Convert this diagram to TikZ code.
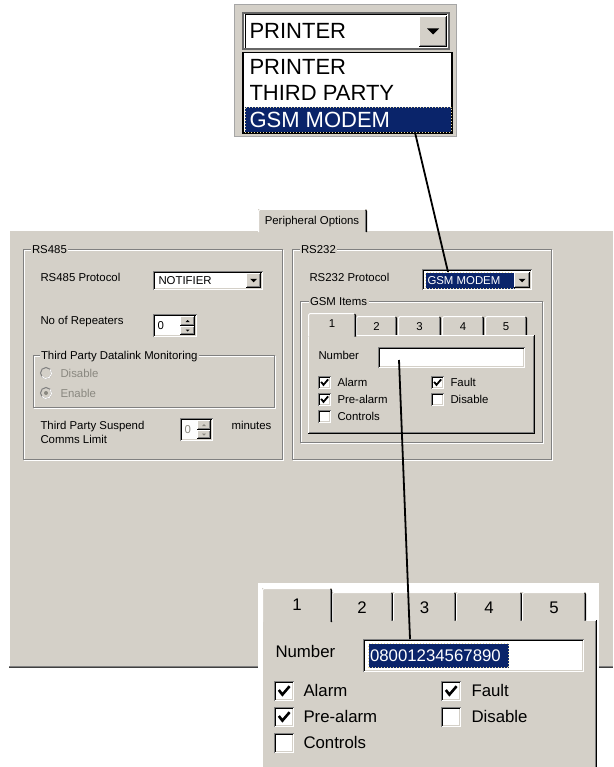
\documentclass[tikz,border=0pt]{standalone}
\usepackage{fontspec}
\setmainfont{Liberation Sans}
\definecolor{panel}{HTML}{D4D0C8}
\definecolor{dkg}{HTML}{808080}
\definecolor{navy}{HTML}{0A246A}
\definecolor{dotc}{HTML}{E6D9A0}
\definecolor{disg}{HTML}{8A8880}
\newcommand\myfs[1]{\fontsize{#1}{#1}\selectfont}
% sunken field: x1 y1 x2 y2 fill
\newcommand\mySunk[5]{%
 \fill[#5] (#1,#2) rectangle (#3,#4);
 \draw[dkg] (#1+0.5,#4) -- (#1+0.5,#2+0.5) -- (#3,#2+0.5);
 \draw[black] (#1+1.5,#4-1) -- (#1+1.5,#2+1.5) -- (#3-1,#2+1.5);
 \draw[white] (#1+0.5,#4-0.5) -- (#3-0.5,#4-0.5) -- (#3-0.5,#2+0.5);
 \draw[panel] (#1+1.5,#4-1.5) -- (#3-1.5,#4-1.5) -- (#3-1.5,#2+1.5);
}
% raised button / panel
\newcommand\myRaised[4]{%
 \fill[panel] (#1,#2) rectangle (#3,#4);
 \draw[white] (#1+0.5,#4-1) -- (#1+0.5,#2+0.5) -- (#3-1,#2+0.5);
 \draw[black] (#1,#4-0.5) -- (#3-0.5,#4-0.5) -- (#3-0.5,#2);
 \draw[dkg] (#1+1,#4-1.5) -- (#3-1.5,#4-1.5) -- (#3-1.5,#2+1);
}
% etched group frame
\newcommand\myEtch[4]{%
 \draw[white] (#1+1.5,#2+1.5) rectangle (#3+1.5,#4+1.5);
 \draw[dkg] (#1+0.5,#2+0.5) rectangle (#3+0.5,#4+0.5);
}
% down triangle: cx cy halfwidth colour
\newcommand\myTri[4]{\fill[#4] (#1-#3,#2-#3/2) -- (#1+#3,#2-#3/2) -- (#1,#2+#3/2) -- cycle;}
\newcommand\myUpTri[4]{\fill[#4] (#1-#3,#2+#3/2) -- (#1+#3,#2+#3/2) -- (#1,#2-#3/2) -- cycle;}
% tab: x1 y1 x2 y2
\newcommand\myTab[4]{%
 \fill[panel] (#1,#2) rectangle (#3,#4);
 \draw[white] (#1+0.5,#4) -- (#1+0.5,#2+2) -- (#1+2,#2+0.5) -- (#3-2,#2+0.5);
 \draw[black] (#3-1.5,#2+1) -- (#3-0.5,#2+2) -- (#3-0.5,#4);
 \draw[dkg] (#3-1.5,#2+2) -- (#3-1.5,#4);
}
% tick: x y size linewidth
\newcommand\myTick[4]{\draw[line width=#4] (#1+#3*0.24,#2+#3*0.45) -- (#1+#3*0.42,#2+#3*0.68) -- (#1+#3*0.78,#2+#3*0.26);}
\begin{document}
\begin{tikzpicture}[x=1pt,y=-1pt,line width=1pt,
  lbl/.style={anchor=west,inner sep=0pt,font=\myfs{11.4},text height=8.2pt,text depth=0pt},
  lblc/.style={lbl,anchor=center},
  glbl/.style={lbl,fill=panel,inner xsep=1.5pt,inner ysep=2pt},
  lbig/.style={anchor=west,inner sep=0pt,font=\myfs{22},text height=15.8pt,text depth=0pt},
  lmid/.style={anchor=west,inner sep=0pt,font=\myfs{16.8},text height=12pt,text depth=0pt},
  lmidc/.style={lmid,anchor=center},
  hilite/.style={fill=navy,draw=dotc,dotted,line width=1pt,anchor=north west,inner sep=0pt},
  conn/.style={line width=1.8pt,black}]
\useasboundingbox (0,0) rectangle (613,767);
\fill[white] (0,0) rectangle (613,767);

% ---------------- main dialog panel ----------------
\fill[panel] (9,230) rectangle (613,668);
\draw[white] (9.5,667) -- (9.5,230.5) -- (613,230.5);
\draw[dkg] (9,666.5) -- (613,666.5);
\draw[black!75] (9,667.5) -- (613,667.5);
\myTab{258}{209}{367}{232}
\node[lblc] (ptab) at (312,220) {Peripheral Options};

% RS485 group
\myEtch{23}{249}{282}{459}
\node[glbl] (g485) at (30,249) {RS485};
\node[lbl] (p485) at (40,277) {RS485 Protocol};
\mySunk{153}{271}{263}{290}{white}
\node[lbl] (notif) at (158,280.5) {NOTIFIER};
\myRaised{246}{273}{261}{288}
\myTri{253.5}{280.5}{3.5}{black}
\node[lbl] (rep) at (40,320) {No of Repeaters};
\mySunk{153}{314}{197}{337}{white}
\node[lbl] (repv) at (157,325.5) {0};
\myRaised{180}{316}{195}{325.5}
\myRaised{180}{325.5}{195}{335}
\myUpTri{187.5}{321}{2}{black}
\myTri{187.5}{330.5}{2}{black}
% datalink group
\myEtch{33}{355}{274}{407}
\node[glbl] (gdl) at (39,355) {Third Party Datalink Monitoring};
\draw[dkg,fill=panel] (46,373) circle (5.5);
\draw[white] (46,373) ++(-40:5.5) arc (-40:140:5.5);
\node[lbl,text=disg] (rdis) at (60,373) {Disable};
\draw[dkg,fill=panel] (46,393) circle (5.5);
\draw[white] (46,393) ++(-40:5.5) arc (-40:140:5.5);
\fill[disg] (46,393) circle (2);
\node[lbl,text=disg] (ren) at (60,393) {Enable};
\node[lbl] (susp1) at (40,425) {Third Party Suspend};
\node[lbl] (susp2) at (40,439) {Comms Limit};
\mySunk{180}{418}{213}{441}{white!96!panel}
\node[lbl,text=disg] (suspv) at (184,429.5) {0};
\myRaised{197}{420}{211}{430}
\myRaised{197}{430}{211}{439}
\myUpTri{204}{425}{2}{disg}
\myTri{204}{434.5}{2}{disg}
\node[lbl] (mins) at (231,425) {minutes};

% RS232 group
\myEtch{292}{249}{551}{459}
\node[glbl] (g232) at (299,249) {RS232};
\node[lbl] (p232) at (309,277) {RS232 Protocol};
\mySunk{422}{269}{532}{290}{white}
\node[hilite,minimum width=89pt,minimum height=16pt] (gsmsel) at (425,272) {};
\node[lbl,text=white] (gsmtxt) at (427,280.5) {GSM MODEM};
\myRaised{514}{272}{530}{288}
\myTri{522}{280.5}{3.5}{black}
% GSM items group
\myEtch{300}{301}{542}{442}
\node[glbl] (ggsm) at (308,301) {GSM Items};
\myTab{356}{316}{397}{335}
\myTab{398}{316}{441}{335}
\myTab{442}{316}{484}{335}
\myTab{485}{316}{527}{335}
\myRaised{308}{335}{535}{434}
\myTab{308}{313}{356}{336.5}
\node[lblc] (t1) at (332,323) {1};
\node[lblc] (t2) at (376.5,326) {2};
\node[lblc] (t3) at (419.5,326) {3};
\node[lblc] (t4) at (463,326) {4};
\node[lblc] (t5) at (506,326) {5};
\node[lbl] (numl) at (318,355) {Number};
\mySunk{378}{347}{525}{368}{white}
\coordinate (numfield) at (399,360);
\mySunk{318}{376}{331}{389}{white} \myTick{318}{376}{13}{1.8pt}
\mySunk{318}{393}{331}{406}{white} \myTick{318}{393}{13}{1.8pt}
\mySunk{318}{410}{331}{423}{white}
\mySunk{431}{376}{444}{389}{white} \myTick{431}{376}{13}{1.8pt}
\mySunk{431}{393}{444}{406}{white}
\node[lbl] (calarm) at (337,382.5) {Alarm};
\node[lbl] (cpre) at (337,399.5) {Pre-alarm};
\node[lbl] (cctl) at (337,416.5) {Controls};
\node[lbl] (cfault) at (450,382.5) {Fault};
\node[lbl] (cdis) at (450,399.5) {Disable};

% ---------------- top callout: protocol list ----------------
\fill[panel] (234,4) rectangle (457,137);
\draw[dkg!70] (234.5,4.5) rectangle (456.5,136.5);
\fill[white] (243,13) rectangle (449,49);
\draw[line width=2.2pt,black!60] (243,13) rectangle (449,49);
\draw[black] (245,48) -- (245,15) -- (447,15);
\myRaised{419}{16}{447}{47}
\myTri{433}{31.5}{6}{black}
\node[lbig] (combo) at (249,31) {PRINTER};
\draw[fill=white,line width=1.6pt] (243,52.5) rectangle (452,133);
\node[lbig] (li1) at (249,67) {PRINTER};
\node[lbig] (li2) at (249,93) {THIRD PARTY};
\node[hilite,minimum width=206pt,minimum height=25pt] (topgsm) at (244.5,107) {};
\node[lbig,text=white] (li3) at (249,120) {GSM MODEM};

% ---------------- lower callout: GSM item 1 ----------------
\fill[white] (258,583) rectangle (599,767);
\myRaised{262}{620}{597}{780}
\myTab{332}{592}{393}{620.5}
\myTab{393}{592}{456}{620.5}
\myTab{456}{592}{522}{620.5}
\myTab{522}{592}{586}{620.5}
\myTab{262}{588}{332}{622}
\node[lmidc] (bt1) at (297,604) {1};
\node[lmidc] (bt2) at (362,607) {2};
\node[lmidc] (bt3) at (424.5,607) {3};
\node[lmidc] (bt4) at (489,607) {4};
\node[lmidc] (bt5) at (554,607) {5};
\node[lmid] (bnum) at (275,651) {Number};
\mySunk{363}{639}{584}{672}{white}
\node[hilite,minimum width=140pt,minimum height=24pt] (bignum) at (368,643) {};
\node[lmid,text=white] (bignumt) at (369.5,655.5) {08001234567890};
\mySunk{274}{681}{294}{701}{white} \myTick{274}{681}{20}{2.6pt}
\mySunk{274}{707}{294}{727}{white} \myTick{274}{707}{20}{2.6pt}
\mySunk{274}{733}{294}{753}{white}
\mySunk{441}{681}{461}{701}{white} \myTick{441}{681}{20}{2.6pt}
\mySunk{441}{707}{461}{727}{white}
\node[lmid] (balarm) at (303,690.5) {Alarm};
\node[lmid] (bpre) at (303,716.5) {Pre-alarm};
\node[lmid] (bctl) at (303,742.5) {Controls};
\node[lmid] (bfault) at (471,690.5) {Fault};
\node[lmid] (bdis) at (471,716.5) {Disable};

% ---------------- connectors ----------------
\coordinate (topgsmEnd) at (415,132.5);
\coordinate (gsmselEnd) at (448,272);
\coordinate (bignumEnd) at (410,639);
\draw[conn] (topgsmEnd) -- (gsmselEnd);
\draw[conn] (numfield) -- (bignumEnd);
\end{tikzpicture}
\end{document}
